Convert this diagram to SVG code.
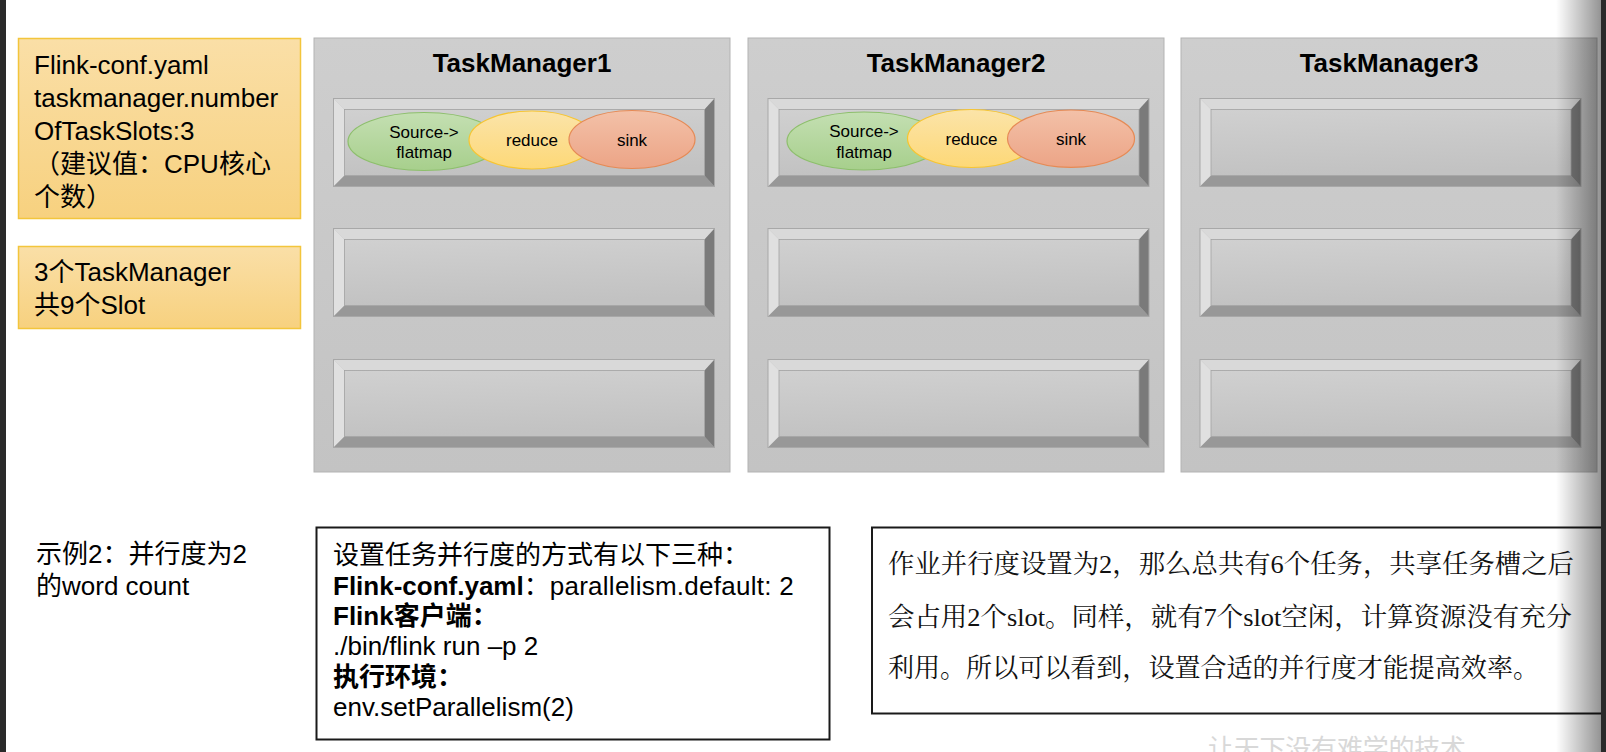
<svg xmlns="http://www.w3.org/2000/svg" xmlns:xlink="http://www.w3.org/1999/xlink" width="1606" height="752" viewBox="0 0 1606 752">
<style>
.sans{font-family:'Liberation Sans','Noto Sans CJK SC',sans-serif;fill:#000}
.serif{font-family:'Liberation Serif','Noto Serif CJK SC','Noto Sans CJK SC',serif;fill:#111}
.t26{font-size:26px}
.title{font-size:26px;font-weight:bold;text-anchor:middle}
.op{font-size:17px;text-anchor:middle}
.b{font-weight:bold}
.note{fill:url(#noteGrad);stroke:#f3c53c;stroke-width:1.5}
.tm{fill:url(#tmGrad);stroke:#b3b3b3;stroke-width:1}
.frame{fill:#fff;stroke:#1a1a1a;stroke-width:2}
.g{fill:url(#greenGrad);stroke:#8dbf6c;stroke-width:1.2}
.y{fill:url(#yellowGrad);stroke:#f7c531;stroke-width:1.2}
.s{fill:url(#sinkGrad);stroke:#e68a55;stroke-width:1.2}
.wm{font-family:'Noto Sans CJK SC',sans-serif;font-size:26px;fill:#d8d8d8}
</style>
<defs>
<linearGradient id="noteGrad" x1="0" y1="0" x2="0" y2="1">
<stop offset="0" stop-color="#fadfa7"/><stop offset="1" stop-color="#f7d17f"/>
</linearGradient>
<linearGradient id="tmGrad" x1="0" y1="0" x2="0" y2="1">
<stop offset="0" stop-color="#cecece"/><stop offset="1" stop-color="#c3c3c3"/>
</linearGradient>
<linearGradient id="faceGrad" x1="0" y1="0" x2="0.15" y2="1">
<stop offset="0" stop-color="#d0d0d0"/><stop offset="1" stop-color="#c2c2c2"/>
</linearGradient>
<linearGradient id="greenGrad" x1="0" y1="0" x2="0" y2="1">
<stop offset="0" stop-color="#c4dfb2"/><stop offset="1" stop-color="#a7cf8c"/>
</linearGradient>
<linearGradient id="yellowGrad" x1="0" y1="0" x2="0" y2="1">
<stop offset="0" stop-color="#fbe4a9"/><stop offset="1" stop-color="#fdd877"/>
</linearGradient>
<linearGradient id="sinkGrad" x1="0" y1="0" x2="0" y2="1">
<stop offset="0" stop-color="#f3c1a8"/><stop offset="1" stop-color="#eca486"/>
</linearGradient>
<linearGradient id="shadowGrad" x1="0" y1="0" x2="1" y2="0">
<stop offset="0" stop-color="#000" stop-opacity="0"/><stop offset="1" stop-color="#000" stop-opacity="0.42"/>
</linearGradient>
<g id="slotShape">
<rect x="0" y="0" width="381" height="88" fill="#bdbdbd"/>
<polygon points="0,0 381,0 371,11 11,11" fill="#d9d9d9"/>
<polygon points="0,0 11,11 11,77 0,88" fill="#e0e0e0"/>
<polygon points="0,88 11,77 371,77 381,88" fill="#989898"/>
<polygon points="381,0 381,88 371,77 371,11" fill="#7a7a7a"/>
<rect x="11" y="11" width="360" height="66" fill="url(#faceGrad)" stroke="#a3a3a3" stroke-width="0.8"/>
<rect x="0" y="0" width="381" height="88" fill="none" stroke="#a8a8a8" stroke-width="1"/>
</g>
</defs>

<rect x="0" y="0" width="1606" height="752" fill="#ffffff"/>

<g id="note-config">
<rect class="note" x="18.5" y="38.5" width="282" height="180"/>
<text class="sans t26" x="34" y="74">Flink-conf.yaml</text>
<text class="sans t26" x="34" y="107">taskmanager.number</text>
<text class="sans t26" x="34" y="140">OfTaskSlots:3</text>
<text class="sans t26" x="34" y="173">（建议值：CPU核心</text>
<text class="sans t26" x="34" y="206">个数）</text>
</g>

<g id="note-count">
<rect class="note" x="18.5" y="246.5" width="282" height="82"/>
<text class="sans t26" x="34" y="281">3个TaskManager</text>
<text class="sans t26" x="34" y="314">共9个Slot</text>
</g>

<g id="tm1">
<rect class="tm" x="314" y="38" width="416" height="434"/>
<text class="sans title" x="522" y="72">TaskManager1</text>
<use xlink:href="#slotShape" x="333.5" y="98.5"/>
<use xlink:href="#slotShape" x="333.5" y="228.5"/>
<use xlink:href="#slotShape" x="333.5" y="359.5"/>
<g id="tm1-source">
<ellipse class="g" cx="424" cy="141.5" rx="76" ry="29"/>
<text class="sans op" x="424" y="137.5">Source-&gt;</text>
<text class="sans op" x="424" y="158">flatmap</text>
</g>
<g id="tm1-reduce">
<ellipse class="y" cx="532" cy="140" rx="63" ry="29"/>
<text class="sans op" x="532" y="146">reduce</text>
</g>
<g id="tm1-sink">
<ellipse class="s" cx="632" cy="139.5" rx="63" ry="29"/>
<text class="sans op" x="632" y="146">sink</text>
</g>
</g>

<g id="tm2">
<rect class="tm" x="748" y="38" width="416" height="434"/>
<text class="sans title" x="956" y="72">TaskManager2</text>
<use xlink:href="#slotShape" x="768" y="98.5"/>
<use xlink:href="#slotShape" x="768" y="228.5"/>
<use xlink:href="#slotShape" x="768" y="359.5"/>
<g id="tm2-source">
<ellipse class="g" cx="864" cy="141" rx="77" ry="29"/>
<text class="sans op" x="864" y="137">Source-&gt;</text>
<text class="sans op" x="864" y="157.5">flatmap</text>
</g>
<g id="tm2-reduce">
<ellipse class="y" cx="971.5" cy="138.5" rx="64" ry="29"/>
<text class="sans op" x="971.5" y="144.5">reduce</text>
</g>
<g id="tm2-sink">
<ellipse class="s" cx="1071" cy="138.7" rx="63.5" ry="28.7"/>
<text class="sans op" x="1071" y="144.5">sink</text>
</g>
</g>

<g id="tm3">
<rect class="tm" x="1181" y="38" width="416" height="434"/>
<text class="sans title" x="1389" y="72">TaskManager3</text>
<use xlink:href="#slotShape" x="1200" y="98.5"/>
<use xlink:href="#slotShape" x="1200" y="228.5"/>
<use xlink:href="#slotShape" x="1200" y="359.5"/>
</g>

<g id="connectors"></g>

<g id="example-label">
<text class="sans t26" x="36" y="563">示例2：并行度为2</text>
<text class="sans t26" x="36" y="595">的word count</text>
</g>

<g id="parallelism-methods">
<rect class="frame" x="316.5" y="527.5" width="513" height="212"/>
<text class="sans t26" x="333" y="564">设置任务并行度的方式有以下三种：</text>
<text class="sans t26" x="333" y="595"><tspan class="b">Flink-conf.yaml</tspan>：<tspan textLength="244" lengthAdjust="spacing">parallelism.default: 2</tspan></text>
<text class="sans t26 b" x="333" y="625">Flink客户端：</text>
<text class="sans t26" x="333" y="655">./bin/flink run –p 2</text>
<text class="sans t26 b" x="333" y="686">执行环境：</text>
<text class="sans t26" x="333" y="716">env.setParallelism(2)</text>
</g>

<g id="explanation">
<rect class="frame" x="872" y="527.5" width="740" height="186"/>
<text class="serif t26" x="888" y="573" textLength="686" lengthAdjust="spacingAndGlyphs">作业并行度设置为2，那么总共有6个任务，共享任务槽之后</text>
<text class="serif t26" x="888" y="626" textLength="684" lengthAdjust="spacingAndGlyphs">会占用2个slot。同样，就有7个slot空闲，计算资源没有充分</text>
<text class="serif t26" x="888" y="677" textLength="651" lengthAdjust="spacingAndGlyphs">利用。所以可以看到，设置合适的并行度才能提高效率。</text>
</g>

<g id="watermark">
<text class="wm" x="1208" y="758" textLength="258">让天下没有难学的技术</text>
</g>

<g id="page-edges">
<rect x="0" y="0" width="6" height="752" fill="#2a2a2a"/>
<rect x="1556" y="0" width="45" height="752" fill="url(#shadowGrad)"/>
<rect x="1601" y="0" width="5" height="752" fill="#2a2a2a"/>
</g>
</svg>
